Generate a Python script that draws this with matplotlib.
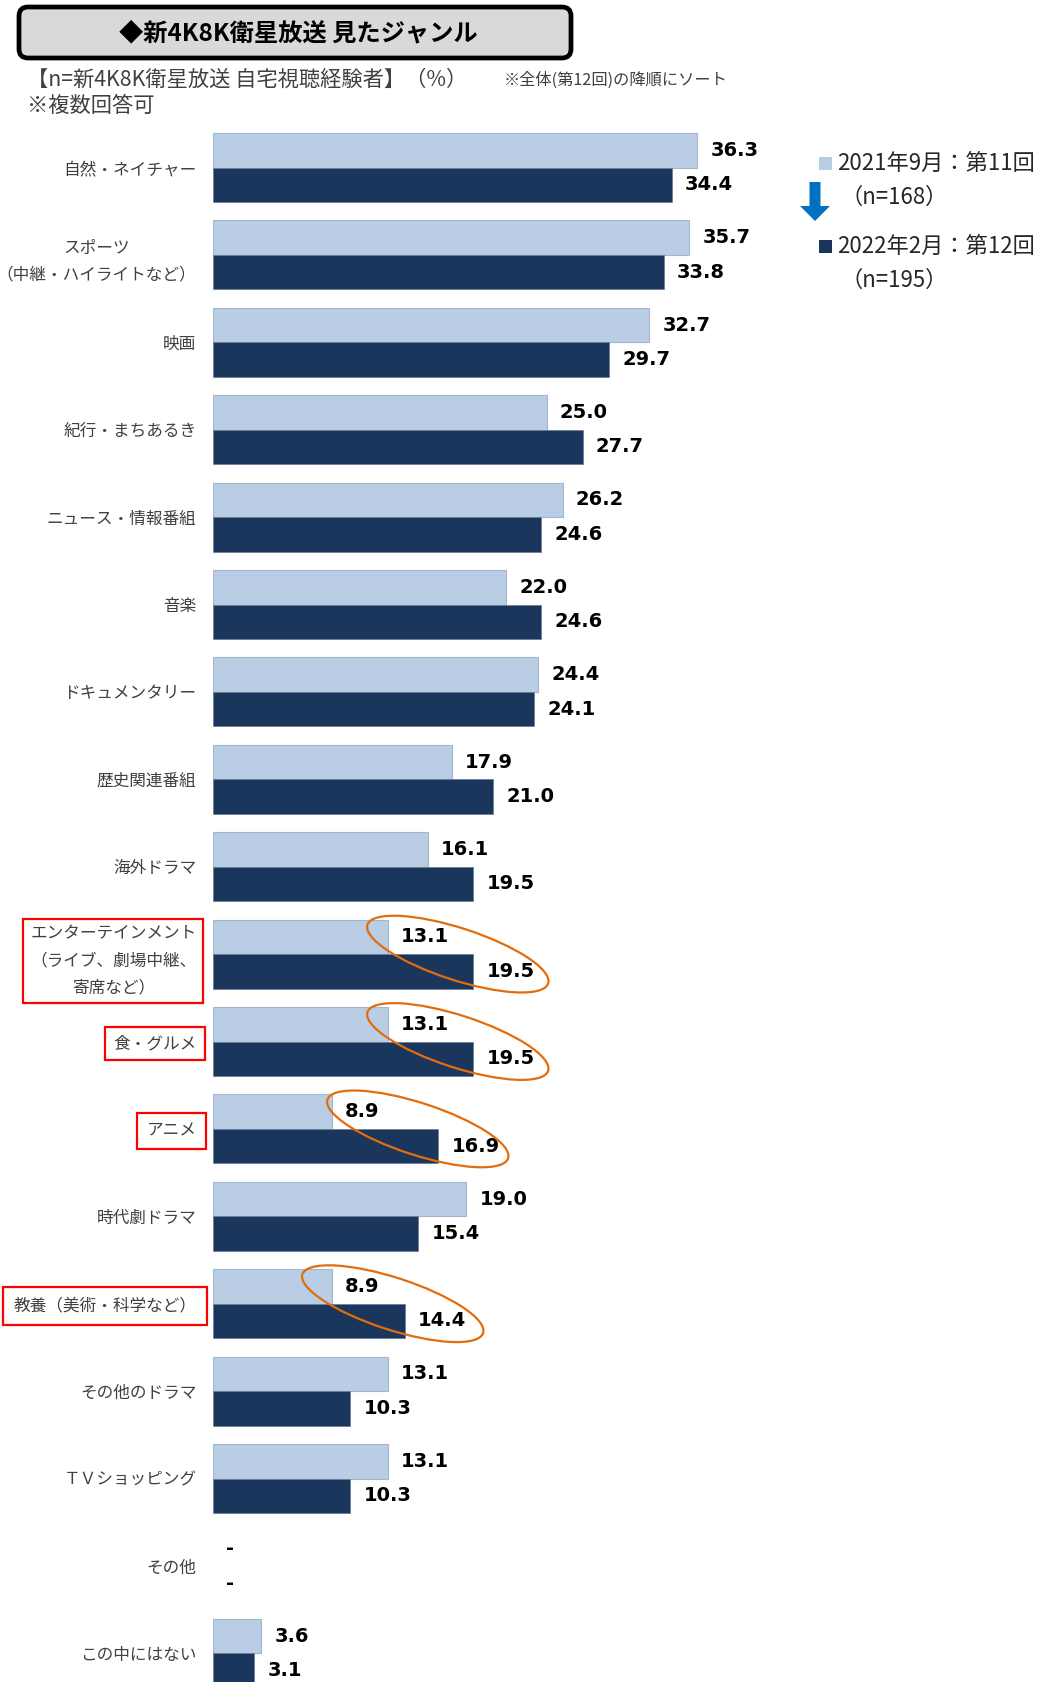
import matplotlib.pyplot as plt
from matplotlib.patches import Rectangle, FancyBboxPatch, Ellipse, FancyArrow
import numpy as np

plt.rcParams['font.family'] = ['Noto Sans CJK JP', 'DejaVu Sans']

categories = [
    "自然・ネイチャー",
    "スポーツ\n（中継・ハイライトなど）",
    "映画",
    "紀行・まちあるき",
    "ニュース・情報番組",
    "音楽",
    "ドキュメンタリー",
    "歴史関連番組",
    "海外ドラマ",
    "エンターテインメント\n（ライブ、劇場中継、\n寄席など）",
    "食・グルメ",
    "アニメ",
    "時代劇ドラマ",
    "教養（美術・科学など）",
    "その他のドラマ",
    "ＴＶショッピング",
    "その他",
    "この中にはない",
]
# 2021年9月 (第11回) / 2022年2月 (第12回), nan = "-"
wave11 = [36.3, 35.7, 32.7, 25.0, 26.2, 22.0, 24.4, 17.9, 16.1, 13.1, 13.1, 8.9, 19.0, 8.9, 13.1, 13.1, np.nan, 3.6]
wave12 = [34.4, 33.8, 29.7, 27.7, 24.6, 24.6, 24.1, 21.0, 19.5, 19.5, 19.5, 16.9, 15.4, 14.4, 10.3, 10.3, np.nan, 3.1]

boxed = {"エンターテインメント\n（ライブ、劇場中継、\n寄席など）": 0.4, "食・グルメ": 0.5, "アニメ": 0.55, "教養（美術・科学など）": 0.62}
circled = [9, 10, 11, 13]

legend_labels = ["2021年9月：第11回", "（n=168）", "2022年2月：第12回", "（n=195）"]
title = "◆新4K8K衛星放送 見たジャンル"
subtitle = "【n=新4K8K衛星放送 自宅視聴経験者】（%）"
note_multi = "※複数回答可"
note_sort = "※全体(第12回)の降順にソート"

light = '#B9CDE5'
dark = '#1B365D'

W, H = 1045, 1682
fig = plt.figure(figsize=(W / 100, H / 100), dpi=100)

row_px = 87.4
top_px = 123.8
n = len(categories)
ax = fig.add_axes([213 / W, 1 - (top_px + n * row_px) / H, 667 / W, n * row_px / H])
ax.set_xlim(0, 50)
ax.set_ylim(n - 0.5, -0.5)

y = np.arange(n)
h = 0.395
ax.barh(y - h / 2, wave11, height=h, color=light, edgecolor='#A3B6CE', linewidth=0.8)
ax.barh(y + h / 2, wave12, height=h, color=dark, edgecolor='#6F7F96', linewidth=0.6)

for vals, off in ((wave11, -h / 2), (wave12, h / 2)):
    for i, v in enumerate(vals):
        if np.isnan(v):
            txt, xv = "-", 0
        else:
            txt, xv = f"{v:.1f}", v
        ax.annotate(txt, (xv, i + off), xytext=(9.5, 0), textcoords='offset points',
                    ha='left', va='center', fontsize=14, fontweight='bold',
                    family='DejaVu Sans', color='black')

ax.set_yticks(y)
ax.set_yticklabels(categories, fontsize=12, color='#404040', multialignment='center',
                   linespacing=1.75)
ax.tick_params(axis='y', length=0, pad=12)
ax.set_xticks([])
for s in ax.spines.values():
    s.set_visible(False)

for lbl in ax.get_yticklabels():
    t = lbl.get_text()
    if t in boxed:
        lbl.set_bbox(dict(boxstyle=f'square,pad={boxed[t]}', fc='none', ec='#FF0000', lw=1.6))

# overlay in pixel units
ov = fig.add_axes([0, 0, 1, 1], zorder=5)
ov.set_xlim(0, W)
ov.set_ylim(H, 0)
ov.axis('off')
ov.patch.set_alpha(0)

ov.add_patch(FancyBboxPatch((19, 7), 552, 51, boxstyle='round,pad=0,rounding_size=9',
                            fc='#D9D9D9', ec='black', lw=3.4))
ov.text(298, 33, title, ha='center', va='center', fontsize=17.5, fontweight='bold', color='black')
ov.text(27, 80, subtitle, ha='left', va='center', fontsize=15.3, color='#404040')
ov.text(27, 106, note_multi, ha='left', va='center', fontsize=15.3, color='#404040')
ov.text(504, 80, note_sort, ha='left', va='center', fontsize=11.7, color='#404040')

# legend
ov.add_patch(Rectangle((819, 157), 13, 13, fc=light, ec='none'))
ov.text(837, 163, legend_labels[0], ha='left', va='center', fontsize=16, color='#262626')
ov.text(840, 197, legend_labels[1], ha='left', va='center', fontsize=16, color='#262626')
ov.add_patch(FancyArrow(815, 182, 0, 39, width=11, head_width=30, head_length=15,
                        length_includes_head=True, color='#0070C0', lw=0))
ov.add_patch(Rectangle((819, 240), 13, 13, fc=dark, ec='none'))
ov.text(837, 246, legend_labels[2], ha='left', va='center', fontsize=16, color='#262626')
ov.text(840, 280, legend_labels[3], ha='left', va='center', fontsize=16, color='#262626')

# orange ellipses around changed values
for i in circled:
    x0, _ = ax.transData.transform((wave11[i], i))
    x1, yc = ax.transData.transform((wave12[i], i))
    cx = (x0 + 3 * x1) / 4 + 6
    ov.add_patch(Ellipse((cx, H - yc), 190, 52, angle=18, fc='none', ec='#E46C0A', lw=1.6))

fig.savefig('out.png', dpi=100)
